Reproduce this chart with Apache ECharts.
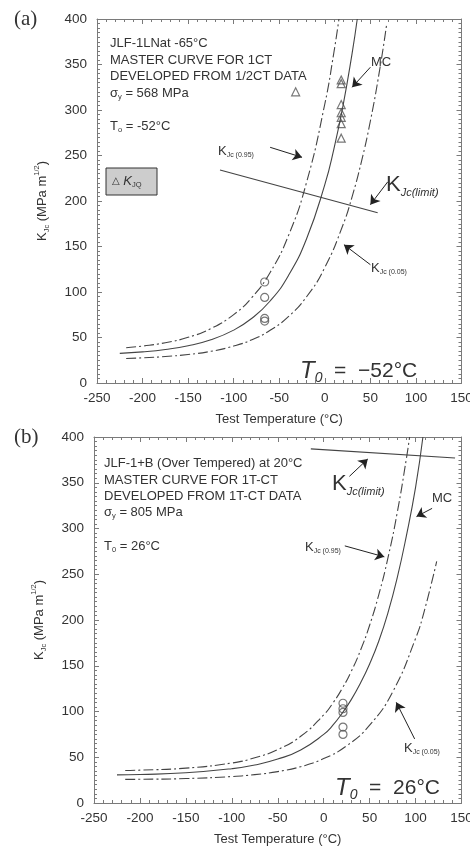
<!DOCTYPE html>
<html>
<head>
<meta charset="utf-8">
<script src="https://cdn.jsdelivr.net/npm/echarts@6/dist/echarts.min.js"></script>
<style>
  html, body { margin: 0; padding: 0; background: #fff; }
  #main { width: 470px; height: 849px; }
</style>
</head>
<body>
<div id="main"></div>
<script>
// panel (a) JLF-1LNat, T0 = -52C
const mcTempA = [-225, -200, -175, -150, -125, -100, -80, -60, -40, -20, 0, 10, 20, 30, 35.6]
const mcA = [32.6, 34.2, 36.8, 40.9, 47.5, 58.1, 71.1, 90.1, 117.9, 158.6, 218.0, 257.4, 304.9, 362.5, 400]
const k95TempA = [-218, -200, -175, -150, -125, -100, -80, -60, -40, -20, 0, 10, 15.5]
const k95A = [38.8, 40.6, 44.3, 50.2, 59.8, 75.2, 94.0, 121.5, 161.7, 220.6, 306.6, 363.5, 400]
const k05TempA = [-218, -200, -175, -150, -125, -100, -80, -60, -40, -20, 0, 20, 30, 40, 50, 60, 68]
const k05A = [27.0, 27.7, 29.1, 31.3, 34.8, 40.6, 47.6, 57.9, 72.9, 94.8, 126.9, 173.9, 204.9, 242.5, 287.9, 342.9, 395]
const limitTempA = [-115, 58]
const limitA = [234, 187]
const kjqTempA = [-32, 18, 18, 18, 18, 18, 18, 18]
const kjqA = [320, 333, 329, 306, 297, 292, 285, 269]
const kjcTempA = [-66, -66, -66, -66]
const kjcA = [111, 94, 71, 68]

// panel (b) JLF-1+B, T0 = 26C
const mcTempB = [-225, -200, -150, -100, -75, -50, -25, 0, 10, 20, 30, 40, 50, 60, 70, 80, 90, 100, 108]
const mcB = [30.7, 31.1, 33, 37.5, 41.5, 48, 58, 75, 85, 98, 113, 131, 152, 177, 208, 246, 292, 345, 400]
const k95TempB = [-216, -200, -150, -100, -75, -50, -25, 0, 10, 20, 30, 40, 50, 60, 70, 80, 90, 93.5]
const k95B = [35.5, 35.9, 38.1, 43.7, 49.4, 58.4, 72.9, 96.3, 109.2, 124.9, 143.8, 166.7, 194.3, 227.8, 268.2, 317.1, 376.3, 400]
const k05TempB = [-216, -200, -150, -100, -75, -50, -25, 0, 25, 50, 75, 100, 110, 123]
const k05B = [25.8, 25.9, 26.7, 28.9, 31.0, 34.3, 39.7, 48.5, 62.5, 85.0, 121.3, 179.8, 211.7, 264.1]
const limitTempB = [-14, 143]
const limitB = [387, 377]
const kjcTempB = [21, 21, 21, 21, 21]
const kjcB = [109, 103, 99, 83, 75]

// annotation arrows [from, to] in data units
const arrowsA = [[[50, 347], [30, 325]], [[-60, 259], [-25, 248]], [[69, 221], [50, 196]], [[50, 130], [21, 152]]]
const arrowsB = [[[28, 357], [48, 376]], [[118, 322], [101, 313]], [[23, 281], [66, 269]], [[99, 70], [79, 110]]]

const FONT = '"Liberation Sans", Arial, sans-serif'
const INK = '#333'
const LINE = '#444'
const AXIS = '#7a7a7a'
const DASHDOT = [10, 3, 2, 3]

const zip = (t, v) => t.map((x, i) => [x, v[i]])

const xAx = function(grid, pos, labels) {
	return {
		type: 'value', gridIndex: grid, position: pos,
		min: -250, max: 150, interval: 50,
		axisLine: { show: true, onZero: false, lineStyle: { color: AXIS, width: 1 } },
		axisTick: { show: true, inside: true, length: 5, lineStyle: { color: AXIS } },
		minorTick: { show: true, splitNumber: 5, length: 3, lineStyle: { color: AXIS } },
		splitLine: { show: false },
		axisLabel: { show: labels, color: INK, fontSize: 13.5, fontFamily: FONT, margin: 8 },
		name: labels ? 'Test Temperature (°C)' : '',
		nameLocation: 'middle', nameGap: 30,
		nameTextStyle: { color: INK, fontSize: 13, fontFamily: FONT },
	}
}
const yAx = function(grid, pos, labels) {
	return {
		type: 'value', gridIndex: grid, position: pos,
		min: 0, max: 400, interval: 50,
		axisLine: { show: true, onZero: false, lineStyle: { color: AXIS, width: 1 } },
		axisTick: { show: true, inside: true, length: 5, lineStyle: { color: AXIS } },
		minorTick: { show: true, splitNumber: 10, length: 3, lineStyle: { color: AXIS } },
		splitLine: { show: false },
		axisLabel: { show: labels, color: INK, fontSize: 13.5, fontFamily: FONT, margin: 10 },
		name: labels ? '{n|K}{s|Jc}{n| (MPa m}{p|1/2}{n|)}' : '',
		nameLocation: 'middle', nameGap: 46, nameRotate: 90,
		nameTextStyle: {
			color: INK, fontFamily: FONT,
			rich: {
				n: { fontSize: 13, fontFamily: FONT, color: INK, lineHeight: 18 },
				s: { fontSize: 7.5, fontFamily: FONT, color: INK, lineHeight: 8, verticalAlign: 'bottom' },
				p: { fontSize: 7.5, fontFamily: FONT, color: INK, lineHeight: 8, verticalAlign: 'top' },
			},
		},
	}
}

const curve = function(idx, data, dashed) {
	return {
		type: 'line', xAxisIndex: idx, yAxisIndex: idx, data: data,
		showSymbol: false, smooth: 0.5,
		lineStyle: { color: LINE, width: 1.1, type: dashed ? DASHDOT : 'solid' },
	}
}
const points = function(idx, data, symbol, size) {
	return {
		type: 'scatter', xAxisIndex: idx, yAxisIndex: idx, data: data,
		symbol: symbol, symbolSize: size,
		itemStyle: { color: 'rgba(0,0,0,0)', borderColor: '#555', borderWidth: 1.2 },
	}
}
const limitLine = function(idx, data, arrows) {
	return {
		type: 'line', xAxisIndex: idx, yAxisIndex: idx, data: data,
		showSymbol: false, lineStyle: { color: LINE, width: 1.1 },
		markLine: {
			silent: true, symbol: ['none', 'arrow'], symbolSize: 9,
			label: { show: false },
			lineStyle: { color: '#222', width: 1, type: 'solid' },
			data: arrows.map(a => [{ coord: a[0] }, { coord: a[1] }]),
		},
	}
}

const RICH = {
	n: { fontSize: 13, fontFamily: FONT, color: INK, lineHeight: 16 },
	s: { fontSize: 7.5, fontFamily: FONT, color: INK, lineHeight: 7, verticalAlign: 'bottom' },
	k: { fontSize: 13, fontFamily: FONT, color: INK, lineHeight: 16 },
	ks: { fontSize: 7, fontFamily: FONT, color: INK, lineHeight: 6, verticalAlign: 'bottom' },
	K: { fontSize: 22, fontFamily: FONT, color: INK, lineHeight: 26 },
	Ks: { fontSize: 11, fontFamily: FONT, fontStyle: 'italic', color: INK, lineHeight: 10, verticalAlign: 'bottom' },
	T: { fontSize: 24, fontFamily: FONT, fontStyle: 'italic', color: '#222', lineHeight: 28 },
	Ts: { fontSize: 14, fontFamily: FONT, fontStyle: 'italic', color: '#222', lineHeight: 11, verticalAlign: 'bottom' },
	Tn: { fontSize: 21, fontFamily: FONT, color: '#222', lineHeight: 28 },
	ki: { fontSize: 13, fontFamily: FONT, fontStyle: 'italic', color: INK, lineHeight: 16 },
	tri: { fontSize: 10, fontFamily: '"DejaVu Sans"', color: INK, lineHeight: 16 },
	L: { fontSize: 21, fontFamily: '"Liberation Serif", serif', color: '#222', lineHeight: 24 },
}
const txt = (x, y, text) => ({
	type: 'text', x: x, y: y, silent: true,
	style: { text: text, rich: RICH, fill: INK, font: '13px ' + FONT, verticalAlign: 'middle' },
})

const chart = echarts.init(document.getElementById('main'), null, { width: 470, height: 849 })
chart.setOption({
	animation: false,
	backgroundColor: '#fff',
	grid: [
		{ left: 97, top: 19, width: 364.5, height: 364, outerBoundsMode: 'none' },
		{ left: 94, top: 437, width: 367.5, height: 366, outerBoundsMode: 'none' },
	],
	xAxis: [xAx(0, 'bottom', true), xAx(0, 'top', false), xAx(1, 'bottom', true), xAx(1, 'top', false)],
	yAxis: [yAx(0, 'left', true), yAx(0, 'right', false), yAx(1, 'left', true), yAx(1, 'right', false)],
	series: [
		curve(0, zip(mcTempA, mcA), false),
		curve(0, zip(k95TempA, k95A), true),
		curve(0, zip(k05TempA, k05A), true),
		limitLine(0, zip(limitTempA, limitA), arrowsA),
		points(0, zip(kjqTempA, kjqA), 'triangle', 8),
		points(0, zip(kjcTempA, kjcA), 'circle', 8),
		curve(2, zip(mcTempB, mcB), false),
		curve(2, zip(k95TempB, k95B), true),
		curve(2, zip(k05TempB, k05B), true),
		limitLine(2, zip(limitTempB, limitB), arrowsB),
		points(2, zip(kjcTempB, kjcB), 'circle', 8),
	],
	graphic: [
		txt(14, 19, '{L|(a)}'),
		txt(110, 43, '{n|JLF-1LNat -65°C}'),
		txt(110, 60, '{n|MASTER CURVE FOR 1CT}'),
		txt(110, 76, '{n|DEVELOPED FROM 1/2CT DATA}'),
		txt(110, 93, '{n|σ}{s|y}{n| = 568 MPa}'),
		txt(110, 126, '{n|T}{s|o}{n| = -52°C}'),
		txt(371, 62, '{n|MC}'),
		txt(218, 151, '{k|K}{ks|Jc (0.95)}'),
		txt(386, 185, '{K|K}{Ks|Jc(limit)}'),
		txt(371, 268, '{k|K}{ks|Jc (0.05)}'),
		{
			type: 'rect', silent: true,
			shape: { x: 106, y: 168, width: 51, height: 27 },
			style: { fill: '#cdcdcd', stroke: '#333', lineWidth: 1 },
		},
		txt(112, 181, '{tri|△}{ki| K}{s|JQ}'),
		txt(300, 371, '{T|T}{Ts|0}{Tn|  =  −52°C}'),

		txt(14, 437, '{L|(b)}'),
		txt(104, 463, '{n|JLF-1+B (Over Tempered) at 20°C}'),
		txt(104, 480, '{n|MASTER CURVE FOR 1T-CT}'),
		txt(104, 496, '{n|DEVELOPED FROM 1T-CT DATA}'),
		txt(104, 512, '{n|σ}{s|y}{n| = 805 MPa}'),
		txt(104, 546, '{n|T}{s|0}{n| = 26°C}'),
		txt(332, 484, '{K|K}{Ks|Jc(limit)}'),
		txt(432, 498, '{n|MC}'),
		txt(305, 547, '{k|K}{ks|Jc (0.95)}'),
		txt(404, 748, '{k|K}{ks|Jc (0.05)}'),
		txt(335, 788, '{T|T}{Ts|0}{Tn|  =  26°C}'),
	],
})
</script>
</body>
</html>
